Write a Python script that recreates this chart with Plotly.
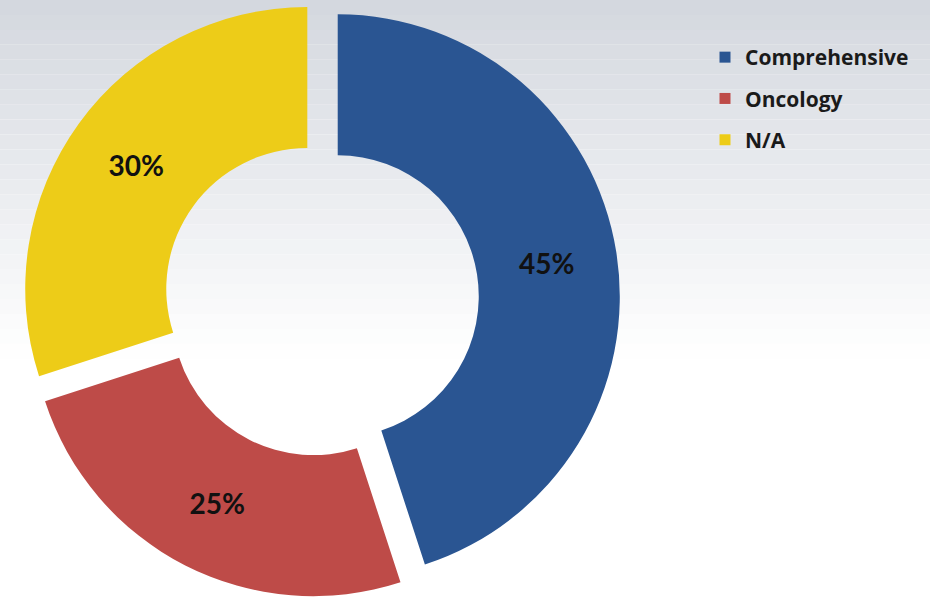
import plotly.graph_objects as go

categories = ["Comprehensive", "Oncology", "N/A"]
values = [45, 25, 30]
colors = ["#2A5592", "#BE4B48", "#EDCC18"]

W, H = 930, 598
cx_px = 321
half = H / 2

fig = go.Figure()

fig.add_trace(go.Pie(
    labels=categories,
    values=values,
    marker=dict(colors=colors, line=dict(width=0)),
    hole=0.5,
    pull=[0.06, 0.06, 0.06],
    sort=False,
    direction="clockwise",
    rotation=0,
    textinfo="percent",
    textposition="inside",
    insidetextorientation="horizontal",
    textfont=dict(family="Lato", size=28, color="#111111", weight="bold"),
    showlegend=False,
    domain=dict(x=[(cx_px - half) / W, (cx_px + half) / W], y=[0, 1]),
))

for name, col in zip(categories, colors):
    fig.add_trace(go.Scatter(
        x=[None], y=[None], mode="markers", name=name, legendgroup=name,
        marker=dict(symbol="square", size=11, color=col),
    ))

# background gradient: light grey at top fading to white
n = 40
top = (212, 216, 223)
bot = (255, 255, 255)
shapes = []
for i in range(n):
    t = i / (n - 1)
    f = min(1.0, t / 0.6)
    c = tuple(int(round(top[k] + (bot[k] - top[k]) * f)) for k in range(3))
    shapes.append(dict(type="rect", xref="paper", yref="paper",
                       x0=0, x1=1, y0=1 - (i + 1) / n, y1=1 - i / n,
                       fillcolor="rgb(%d,%d,%d)" % c, line=dict(width=0), layer="below"))

fig.update_layout(
    width=W, height=H,
    margin=dict(l=0, r=0, t=0, b=0),
    paper_bgcolor="white",
    plot_bgcolor="rgba(0,0,0,0)",
    shapes=shapes,
    xaxis=dict(visible=False),
    yaxis=dict(visible=False),
    legend=dict(x=705 / W, y=1 - 37 / H, xanchor="left", yanchor="top",
                bgcolor="rgba(0,0,0,0)", tracegroupgap=11,
                font=dict(family="Open Sans", size=21, color="#1A1A1A", weight="bold")),
)

fig.write_html("out.html", config={"displayModeBar": False},
               post_script="document.body.style.margin='0';document.body.style.overflow='hidden';")
